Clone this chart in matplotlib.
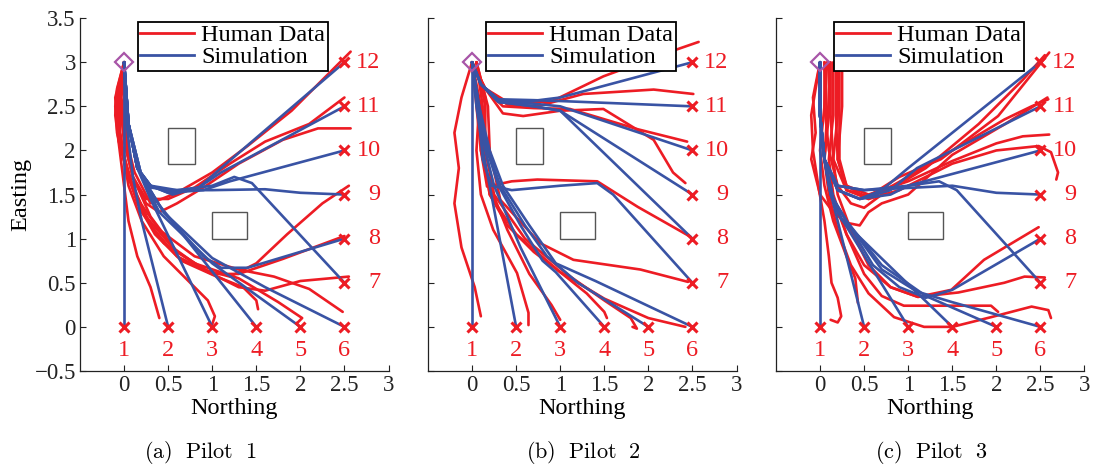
import matplotlib
matplotlib.use("Agg")
import matplotlib.pyplot as plt
from matplotlib.lines import Line2D
from matplotlib.patches import Rectangle

# ---- goals, start and obstacles (Northing, Easting) ----
goal_north = [0, 0.5, 1, 1.5, 2, 2.5, 2.5, 2.5, 2.5, 2.5, 2.5, 2.5]
goal_east = [0, 0, 0, 0, 0, 0, 0.5, 1, 1.5, 2, 2.5, 3]
goal_labels = [str(i) for i in range(1, 13)]
start_point = (0.0, 3.0)
obstacles = [(0.5, 1.85, 0.3, 0.4), (1.0, 1.0, 0.4, 0.3)]
pilot_titles = ["(a)\\ \\ Pilot\\ \\ 1", "(b)\\ \\ Pilot\\ \\ 2", "(c)\\ \\ Pilot\\ \\ 3"]

# ---- simulated trajectories ----
sim_p1 = [
    [(0, 3), (0, 0)],
    [(0, 3), (0.03, 2.3), (0.1, 1.7), (0.2, 1.2), (0.5, 0)],
    [(0, 3), (0.05, 2.3), (0.15, 1.8), (0.3, 1.45), (1.0, 0)],
    [(0, 3), (0.05, 2.3), (0.15, 1.8), (0.4, 1.38), (1.5, 0)],
    [(0, 3), (0.05, 2.3), (0.2, 1.7), (0.4, 1.3), (1.0, 0.72), (2.0, 0)],
    [(0, 3), (0.05, 2.3), (0.2, 1.7), (0.45, 1.3), (1.0, 0.78), (1.6, 0.45), (2.5, 0)],
    [(0, 3), (0.05, 2.3), (0.15, 1.8), (0.3, 1.6), (0.6, 1.55), (1.0, 1.6),
     (1.25, 1.7), (1.45, 1.63), (2.5, 0.5)],
    [(0, 3), (0.05, 2.3), (0.2, 1.7), (0.45, 1.3), (0.9, 0.8), (1.1, 0.67),
     (1.4, 0.67), (2.5, 1.0)],
    [(0, 3), (0.05, 2.3), (0.15, 1.8), (0.3, 1.58), (0.5, 1.55), (1.0, 1.55),
     (1.6, 1.56), (2.0, 1.52), (2.5, 1.5)],
    [(0, 3), (0.05, 2.3), (0.15, 1.8), (0.3, 1.6), (0.5, 1.52), (0.9, 1.55),
     (1.2, 1.65), (2.5, 2.0)],
    [(0, 3), (0.05, 2.3), (0.15, 1.8), (0.3, 1.6), (0.5, 1.53), (0.8, 1.55),
     (1.1, 1.75), (2.5, 2.5)],
    [(0, 3), (0.05, 2.3), (0.15, 1.8), (0.3, 1.6), (0.55, 1.5), (0.85, 1.58),
     (1.1, 1.8), (2.5, 3.0)],
]

sim_p2 = [
    [(0, 3), (0, 0)],
    [(0, 3), (0.05, 2.5), (0.12, 2.0), (0.2, 1.6), (0.5, 0)],
    [(0, 3), (0.06, 2.5), (0.15, 2.0), (0.25, 1.6), (0.55, 0.9), (1.0, 0)],
    [(0, 3), (0.07, 2.5), (0.17, 2.0), (0.3, 1.6), (0.55, 1.15), (0.8, 0.75),
     (0.95, 0.62), (1.5, 0)],
    [(0, 3), (0.08, 2.5), (0.18, 2.0), (0.32, 1.6), (0.6, 1.15), (0.85, 0.8),
     (1.2, 0.5), (2.0, 0)],
    [(0, 3), (0.08, 2.5), (0.2, 2.0), (0.35, 1.6), (0.65, 1.15), (0.95, 0.72),
     (1.4, 0.52), (2.5, 0)],
    [(0, 3), (0.08, 2.4), (0.12, 1.9), (0.22, 1.6), (0.45, 1.55), (1.0, 1.6),
     (1.42, 1.63), (1.6, 1.5), (2.5, 0.5)],
    [(0, 3), (0.1, 2.75), (0.3, 2.55), (0.7, 2.5), (1.0, 2.45), (2.5, 1.0)],
    [(0, 3), (0.1, 2.75), (0.3, 2.55), (0.7, 2.5), (1.0, 2.45), (2.5, 1.5)],
    [(0, 3), (0.1, 2.75), (0.3, 2.55), (0.7, 2.53), (1.0, 2.5), (2.5, 2.0)],
    [(0, 3), (0.1, 2.75), (0.3, 2.58), (0.7, 2.57), (1.0, 2.56), (2.5, 2.5)],
    [(0, 3), (0.1, 2.75), (0.3, 2.57), (0.6, 2.55), (1.0, 2.6), (2.5, 3.0)],
]

sim_p3 = [
    [(0, 3), (0, 0)],
    [(0, 3), (0.0, 2.4), (0.05, 1.9), (0.1, 1.6), (0.5, 0)],
    [(0, 3), (0.0, 2.4), (0.05, 1.9), (0.12, 1.5), (0.2, 1.3), (1.0, 0)],
    [(0, 3), (0.0, 2.4), (0.05, 1.9), (0.12, 1.5), (0.24, 1.22), (1.5, 0)],
    [(0, 3), (0.0, 2.4), (0.05, 1.9), (0.15, 1.45), (0.3, 1.2), (0.7, 0.7),
     (1.2, 0.35), (2.0, 0)],
    [(0, 3), (0.0, 2.4), (0.05, 1.9), (0.15, 1.45), (0.3, 1.2), (0.7, 0.65),
     (1.1, 0.4), (1.5, 0.28), (2.5, 0)],
    [(0, 3), (0.0, 2.4), (0.05, 1.9), (0.2, 1.6), (0.5, 1.55), (1.0, 1.6),
     (1.35, 1.65), (1.55, 1.55), (2.5, 0.5)],
    [(0, 3), (0.0, 2.4), (0.05, 1.9), (0.15, 1.45), (0.3, 1.2), (0.6, 0.7),
     (0.9, 0.45), (1.2, 0.33), (1.5, 0.42), (2.5, 1.0)],
    [(0, 3), (0.0, 2.4), (0.05, 1.9), (0.2, 1.6), (0.5, 1.55), (1.5, 1.6),
     (2.0, 1.52), (2.5, 1.5)],
    [(0, 3), (0.0, 2.4), (0.05, 1.9), (0.2, 1.55), (0.45, 1.45), (0.8, 1.5),
     (1.0, 1.6), (2.5, 2.0)],
    [(0, 3), (0.0, 2.4), (0.05, 1.9), (0.2, 1.55), (0.45, 1.45), (0.8, 1.55),
     (1.1, 1.8), (2.5, 2.5)],
    [(0, 3), (0.0, 2.4), (0.05, 1.9), (0.2, 1.55), (0.45, 1.45), (0.7, 1.55),
     (1.0, 1.8), (2.5, 3.0)],
]

# ---- recorded pilot trajectories ----
human_p1 = [
    [(0, 3), (-0.08, 2.7), (-0.1, 2.4), (-0.05, 2.0), (0.0, 1.6), (0.05, 1.2),
     (0.15, 0.8), (0.3, 0.45), (0.4, 0.1)],
    [(0, 3), (-0.05, 2.7), (-0.08, 2.4), (-0.02, 2.0), (0.05, 1.6), (0.2, 1.2),
     (0.45, 0.8), (0.75, 0.5), (0.95, 0.3), (1.03, 0.12), (1.0, 0.03)],
    [(0, 3), (-0.06, 2.6), (-0.05, 2.2), (0.02, 1.8), (0.15, 1.4), (0.35, 1.05),
     (0.65, 0.75), (1.05, 0.57), (1.35, 0.45), (1.5, 0.3), (1.52, 0.2)],
    [(0, 3), (-0.1, 2.5), (-0.06, 2.1), (0.05, 1.7), (0.2, 1.3), (0.45, 0.95),
     (0.8, 0.72), (1.3, 0.55), (1.75, 0.28), (2.02, 0.1), (1.96, 0.04)],
    [(0, 3), (-0.1, 2.6), (-0.08, 2.2), (0.02, 1.8), (0.15, 1.45), (0.4, 1.1),
     (0.8, 0.8), (1.3, 0.65), (1.7, 0.57), (2.1, 0.43), (2.48, 0.17)],
    [(0, 3), (-0.05, 2.6), (0.0, 2.1), (0.1, 1.7), (0.3, 1.25), (0.6, 0.85),
     (1.0, 0.6), (1.3, 0.45), (1.6, 0.41), (2.0, 0.52), (2.55, 0.57)],
    [(0, 3), (-0.08, 2.5), (-0.02, 2.0), (0.1, 1.6), (0.3, 1.15), (0.6, 0.8),
     (1.0, 0.6), (1.3, 0.6), (1.8, 0.77), (2.5, 1.03)],
    [(0, 3), (-0.05, 2.7), (-0.05, 2.2), (0.05, 1.7), (0.25, 1.25), (0.55, 0.9),
     (0.9, 0.65), (1.2, 0.57), (1.5, 0.72), (1.85, 1.05), (2.25, 1.4), (2.55, 1.6)],
    [(0, 3), (-0.05, 2.6), (0.0, 2.1), (0.1, 1.7), (0.25, 1.4), (0.4, 1.3),
     (0.6, 1.4), (0.9, 1.58), (1.3, 1.85), (1.8, 2.12), (2.2, 2.25), (2.57, 2.25)],
    [(0, 3), (-0.03, 2.6), (0.02, 2.1), (0.1, 1.7), (0.25, 1.45), (0.5, 1.45),
     (0.8, 1.58), (1.2, 1.85), (1.6, 2.1), (2.1, 2.3), (2.5, 2.6)],
    [(0, 3), (0.0, 2.6), (0.03, 2.1), (0.12, 1.75), (0.3, 1.4), (0.6, 1.52),
     (1.0, 1.75), (1.4, 2.05), (1.9, 2.45), (2.3, 2.85), (2.57, 3.12)],
]

human_p2 = [
    [(0, 3), (-0.12, 2.6), (-0.2, 2.2), (-0.15, 1.8), (-0.2, 1.4), (-0.12, 0.9),
     (0.03, 0.45), (0.1, 0.12)],
    [(0, 3), (0.08, 2.5), (0.05, 2.0), (0.1, 1.5), (0.24, 1.1), (0.51, 0.61),
     (0.64, 0.16), (0.64, 0.02)],
    [(0, 3), (0.1, 2.5), (0.1, 2.0), (0.2, 1.6), (0.4, 1.1), (0.65, 0.6),
     (0.9, 0.25), (1.0, 0.08)],
    [(0.05, 3), (0.12, 2.5), (0.12, 2.0), (0.2, 1.5), (0.4, 1.15), (0.7, 0.85),
     (1.0, 0.62), (1.3, 0.38), (1.5, 0.17), (1.53, 0.1)],
    [(0.05, 3), (0.15, 2.5), (0.15, 2.0), (0.25, 1.5), (0.6, 1.0), (1.1, 0.58),
     (1.5, 0.3), (1.8, 0.1), (1.87, -0.02), (1.82, 0.0)],
    [(0.05, 3), (0.15, 2.6), (0.13, 2.0), (0.2, 1.5), (0.5, 1.05), (1.0, 0.62),
     (1.5, 0.32), (2.0, 0.1), (2.42, 0.0)],
    [(0.05, 3), (0.18, 2.5), (0.2, 2.0), (0.32, 1.44), (0.77, 0.95), (1.15, 0.76),
     (1.91, 0.65), (2.45, 0.51)],
    [(0, 3), (0.05, 2.5), (0.1, 2.0), (0.17, 1.59), (0.45, 1.65), (0.74, 1.67),
     (1.42, 1.65), (1.88, 1.36), (2.48, 1.02)],
    [(0, 3), (0.15, 2.7), (0.35, 2.42), (0.58, 2.39), (1.0, 2.45), (1.49, 2.47),
     (2.06, 2.12), (2.28, 1.75), (2.42, 1.63)],
    [(0, 3), (0.15, 2.7), (0.35, 2.5), (0.7, 2.48), (1.11, 2.47), (1.88, 2.24),
     (2.44, 2.1)],
    [(0, 3), (0.15, 2.7), (0.4, 2.52), (0.74, 2.5), (1.26, 2.64), (2.06, 2.69),
     (2.51, 2.64)],
    [(0, 3), (0.12, 2.72), (0.4, 2.55), (0.89, 2.55), (1.49, 2.84), (2.25, 3.12),
     (2.57, 3.23)],
]

human_p3 = [
    [(0, 3), (-0.05, 2.7), (-0.1, 2.4), (-0.08, 2.0), (-0.02, 1.6), (0.05, 1.2),
     (0.1, 0.8), (0.13, 0.5), (0.2, 0.33), (0.24, 0.12), (0.2, 0.05), (0.12, 0.08)],
    [(0.05, 3), (0.05, 2.5), (0.0, 2.0), (0.05, 1.6), (0.15, 1.2), (0.3, 0.8),
     (0.4, 0.55), (0.43, 0.27)],
    [(0.1, 3), (0.1, 2.4), (0.05, 1.9), (0.1, 1.5), (0.2, 1.1), (0.35, 0.7),
     (0.55, 0.38), (0.84, 0.11), (1.18, 0.0), (1.5, 0.0), (1.94, 0.11),
     (2.4, 0.23), (2.59, 0.19), (2.62, 0.1)],
    [(0.15, 3), (0.15, 2.4), (0.1, 1.9), (0.15, 1.5), (0.3, 1.05), (0.5, 0.6),
     (0.7, 0.35), (0.95, 0.24), (1.4, 0.24), (1.94, 0.24), (2.02, 0.17)],
    [(0.2, 3), (0.2, 2.4), (0.15, 1.9), (0.2, 1.5), (0.35, 1.1), (0.55, 0.7),
     (0.8, 0.45), (1.11, 0.34), (1.57, 0.39), (2.09, 0.5), (2.32, 0.57), (2.55, 0.56)],
    [(0.05, 3), (0.08, 2.4), (0.05, 1.9), (0.15, 1.45), (0.3, 1.05), (0.5, 0.7),
     (0.8, 0.45), (1.11, 0.34), (1.49, 0.42), (1.86, 0.76), (2.48, 1.13)],
    [(0.25, 3), (0.25, 2.5), (0.2, 1.9), (0.3, 1.55), (0.55, 1.45), (0.9, 1.55),
     (1.5, 1.85), (2.0, 2.0), (2.48, 2.05), (2.62, 1.98), (2.7, 1.75), (2.68, 1.67)],
    [(0.22, 3), (0.22, 2.4), (0.22, 1.9), (0.3, 1.6), (0.55, 1.5), (1.0, 1.65),
     (1.5, 1.88), (2.0, 2.08), (2.3, 2.16), (2.6, 2.18)],
    [(0.18, 3), (0.18, 2.4), (0.2, 1.9), (0.3, 1.6), (0.55, 1.45), (1.0, 1.7),
     (1.5, 2.0), (2.09, 2.35), (2.4, 2.5), (2.59, 2.58)],
    [(0.12, 3), (0.12, 2.4), (0.15, 1.9), (0.3, 1.55), (0.55, 1.48), (0.9, 1.7),
     (1.37, 1.9), (2.02, 2.39), (2.6, 3.11)],
    [(0.0, 3), (-0.08, 2.6), (-0.05, 2.2), (-0.1, 1.9), (0.0, 1.5), (0.15, 1.3),
     (0.3, 1.18), (0.45, 1.15), (0.55, 1.3), (0.7, 1.4), (1.0, 1.5), (1.5, 1.95),
     (2.1, 2.3), (2.58, 2.6)],
    [(0.08, 3), (0.05, 2.5), (0.1, 2.0), (0.2, 1.6), (0.35, 1.4), (0.5, 1.35),
     (0.7, 1.5), (1.2, 1.8), (1.8, 2.3), (2.3, 2.8), (2.55, 3.08)],
]

RED = "#ED1C24"
BLUE = "#3953A4"
PURPLE = "#A855A8"
SERIF = ["Liberation Serif", "DejaVu Serif"]

plt.rcParams["font.family"] = SERIF
plt.rcParams["mathtext.fontset"] = "cm"

fig = plt.figure(figsize=(10.96, 4.68), dpi=100)
lefts = [0.073, 0.3905, 0.708]
panels = [(sim_p1, human_p1), (sim_p2, human_p2), (sim_p3, human_p3)]

for k, (sims, humans) in enumerate(panels):
    ax = fig.add_axes([lefts[k], 0.2073, 0.2815, 0.754])
    for path in humans:
        xs, ys = zip(*path)
        ax.plot(xs, ys, color=RED, lw=1.9, solid_joinstyle="round",
                solid_capstyle="round", zorder=2)
    for path in sims:
        xs, ys = zip(*path)
        ax.plot(xs, ys, color=BLUE, lw=1.9, solid_joinstyle="round",
                solid_capstyle="round", zorder=3)
    for (x0, y0, w, h) in obstacles:
        ax.add_patch(Rectangle((x0, y0), w, h, fill=False, ec="#555555", lw=1.0,
                               zorder=4))
    ax.plot(goal_north, goal_east, ls="none", marker="x", ms=7, mew=2.2,
            color=RED, zorder=5)
    ax.plot([start_point[0]], [start_point[1]], ls="none", marker="D", ms=9,
            mfc="none", mec=PURPLE, mew=1.6, zorder=6)
    for gx, gy, lab in zip(goal_north, goal_east, goal_labels):
        if gy == 0 and not (gx == 2.5 and lab != "6"):
            ax.text(gx, -0.27, lab, color=RED, fontsize=17.5, ha="center",
                    va="center", zorder=6)
        else:
            ax.text(2.91, gy, lab, color=RED, fontsize=17.5, ha="right",
                    va="center", zorder=6)

    ax.set_xlim(-0.5, 3)
    ax.set_ylim(-0.5, 3.5)
    ax.set_xticks([0, 0.5, 1, 1.5, 2, 2.5, 3])
    ax.set_xticklabels(["0", "0.5", "1", "1.5", "2", "2.5", "3"])
    ax.set_yticks([-0.5, 0, 0.5, 1, 1.5, 2, 2.5, 3, 3.5])
    if k == 0:
        ax.set_yticklabels(["\u22120.5", "0", "0.5", "1", "1.5", "2", "2.5", "3", "3.5"])
        ax.set_ylabel("Easting", fontsize=17.5, labelpad=2)
    else:
        ax.set_yticklabels([])
    ax.set_xlabel("Northing", fontsize=17.5, labelpad=1)
    ax.tick_params(direction="in", length=4, width=0.8, labelsize=16.5, pad=3,
                   colors="#222222")
    for side in ("top", "right"):
        ax.spines[side].set_visible(False)
    for side in ("left", "bottom"):
        ax.spines[side].set_linewidth(0.9)
        ax.spines[side].set_color("#222222")

    handles = [Line2D([], [], color=RED, lw=2.0), Line2D([], [], color=BLUE, lw=2.0)]
    leg = ax.legend(handles, ["Human Data", "Simulation"], loc="upper left",
                    bbox_to_anchor=(0.188, 0.99), fontsize=17.5, frameon=True,
                    fancybox=False, edgecolor="black", framealpha=1,
                    borderpad=0.1, handlelength=2.2, handletextpad=0.3,
                    labelspacing=0.0, borderaxespad=0)
    leg.get_frame().set_linewidth(1.3)
    leg.set_zorder(10)

    cx = [0.183, 0.532, 0.85][k]
    fig.text(cx, 0.034, r"$\mathrm{" + pilot_titles[k] + "}$", fontsize=16,
             ha="center", va="center")

fig.savefig("out.png", dpi=100)
